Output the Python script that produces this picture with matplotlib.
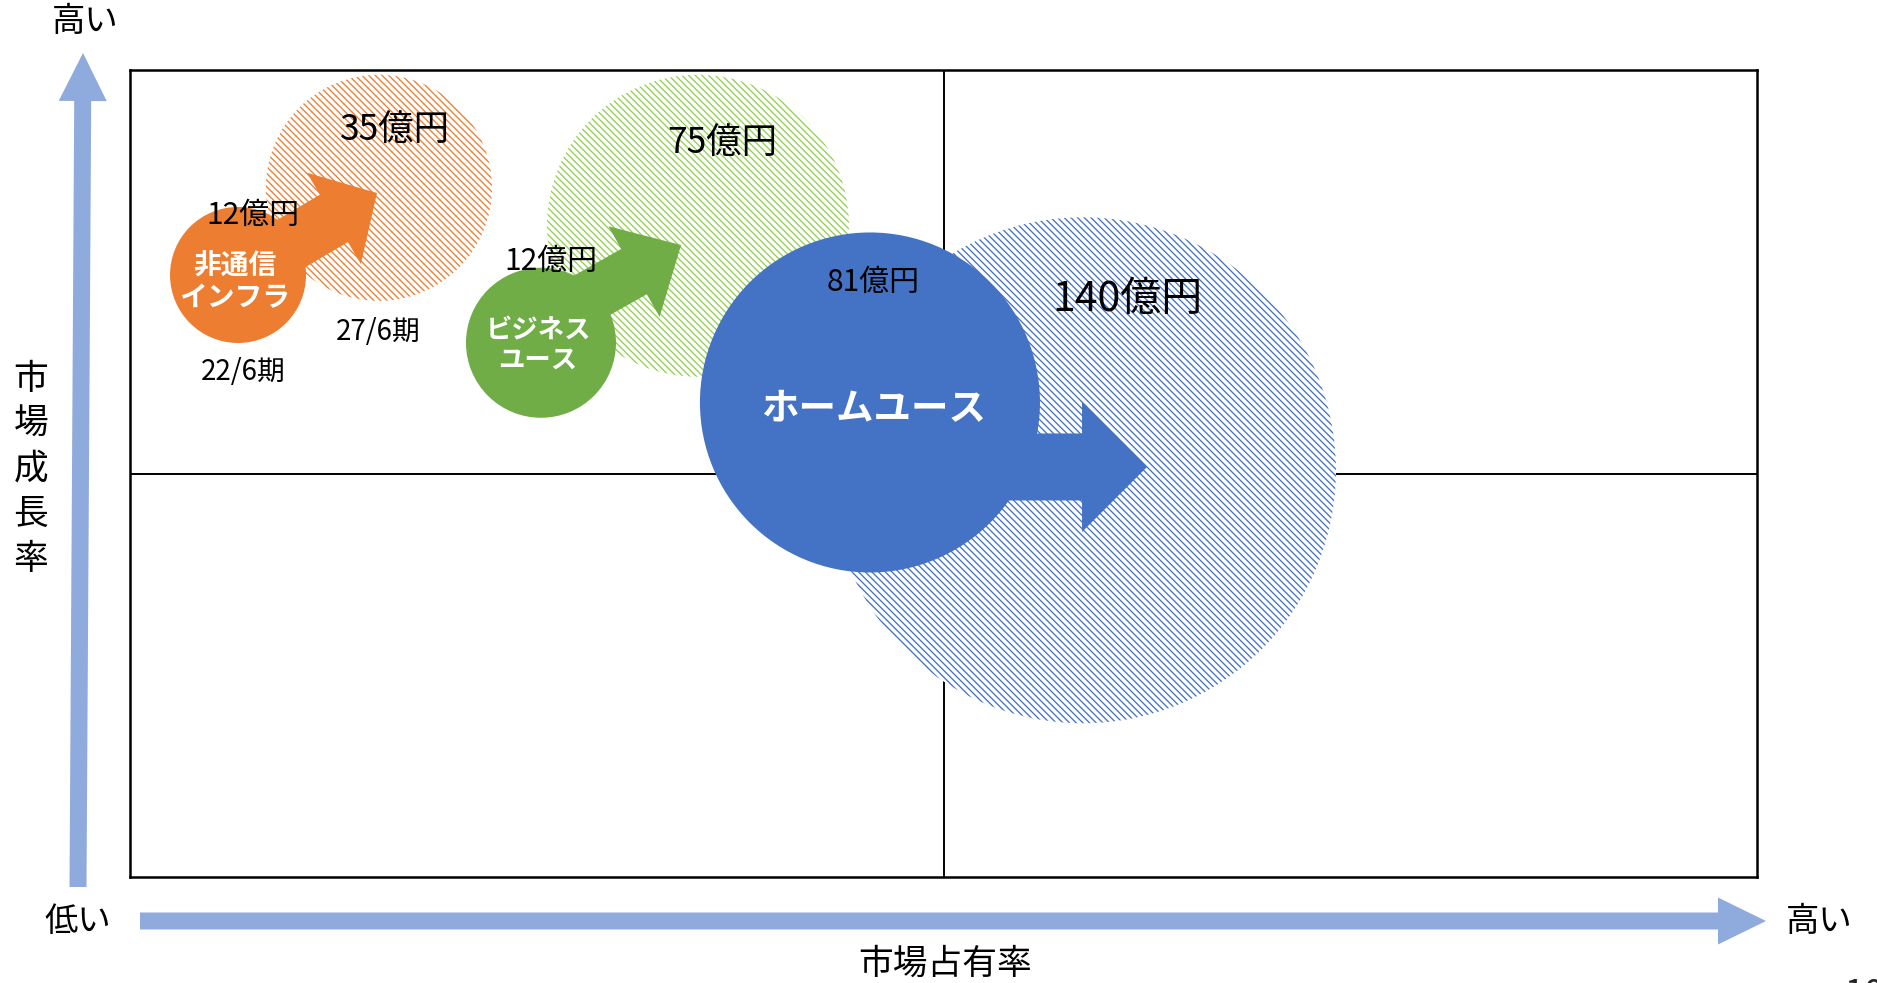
import matplotlib
matplotlib.use('Agg')
import matplotlib.pyplot as plt
from matplotlib.patches import Ellipse, FancyArrow

plt.rcParams['font.family'] = ['Noto Sans CJK JP', 'DejaVu Sans']
plt.rcParams['hatch.linewidth'] = 0.95

# ---------------- data ----------------
segments = ['非通信\nインフラ', 'ビジネス\nユース', 'ホームユース']
size_now = [12, 12, 81]          # 億円 (22/6期)
size_future = [35, 75, 140]      # 億円 (27/6期)
period_now = '22/6期'
period_future = '27/6期'

# position in the matrix (市場占有率 0-100, 市場成長率 0-100)
share_now = [6.64, 25.26, 45.48]
growth_now = [74.6, 66.2, 58.8]
share_future = [15.30, 34.91, 58.57]
growth_future = [85.4, 80.7, 50.4]
# bubble radii (in 市場占有率 units)
radius_now = [4.18, 4.61, 10.45]
radius_future = [6.95, 9.28, 15.55]
# growth arrows
arrow_from_share = [6.64, 25.81, 45.48]
arrow_from_growth = [74.6, 69.14, 50.81]
arrow_to_share = [15.18, 33.87, 62.51]
arrow_to_growth = [84.76, 78.31, 50.81]

# ---------------- styles / layout ----------------
solid_colors = ['#ED7D31', '#70AD47', '#4472C4']
hatch_colors = ['#ED7D31', '#92D050', '#4472C4']
arrow_dims = [(50, 106, 55), (54, 104, 52), (65, 130, 67)]  # head_len, head_w, tail_w (px)
seg_fontsize = [20, 19, 27]
seg_pos = [(6.45, 73.7), (25.08, 65.9), (45.67, 58.0)]
now_lbl_pos = [(7.56, 82.0), (25.88, 76.3), (45.67, 73.7)]
fut_lbl_pos = [(16.29, 92.5), (36.39, 90.8), (61.28, 71.6)]
fut_lbl_size = [25.5, 25.5, 29.5]
now_lbl_size = 21.5
period_pos_now = (6.95, 62.6)
period_pos_future = (15.24, 67.5)

W, H, DPI = 1877, 983, 100
fig = plt.figure(figsize=(W / DPI, H / DPI), dpi=DPI)

deco = fig.add_axes([0, 0, 1, 1])
deco.set_xlim(0, W)
deco.set_ylim(H, 0)
deco.axis('off')

box_l, box_t, box_r, box_b = 130, 70, 1757, 877
ax = fig.add_axes([box_l / W, 1 - box_b / H, (box_r - box_l) / W, (box_b - box_t) / H])
ax.set_xlim(0, 100)
ax.set_ylim(0, 100)
ax.set_xticks([])
ax.set_yticks([])
for s in ax.spines.values():
    s.set_linewidth(1.8)
    s.set_color('black')
    s.set_zorder(6)
ax.axvline(50, color='black', lw=1.4, zorder=1)
ax.axhline(50, color='black', lw=1.4, zorder=1)

aspect = ((box_r - box_l) / 100) / ((box_b - box_t) / 100)

# future (hatched) bubbles
for i in range(3):
    e = Ellipse((share_future[i], growth_future[i]), 2 * radius_future[i],
                2 * radius_future[i] * aspect, facecolor='white',
                edgecolor=hatch_colors[i], hatch='\\' * 5, lw=0, zorder=2)
    ax.add_patch(e)

# current (solid) bubbles
for i in range(3):
    e = Ellipse((share_now[i], growth_now[i]), 2 * radius_now[i],
                2 * radius_now[i] * aspect, facecolor=solid_colors[i],
                edgecolor='none', lw=0, zorder=3)
    ax.add_patch(e)

# arrows
for i in range(3):
    hl, hw, tw = arrow_dims[i]
    ax.annotate('', xy=(arrow_to_share[i], arrow_to_growth[i]),
                xytext=(arrow_from_share[i], arrow_from_growth[i]),
                arrowprops=dict(arrowstyle=f'simple,head_length={hl},head_width={hw},tail_width={tw}',
                                fc=solid_colors[i], ec='none', lw=0,
                                shrinkA=0, shrinkB=0, mutation_scale=72 / DPI),
                zorder=4, annotation_clip=False)

# labels
for i in range(3):
    ax.text(*seg_pos[i], segments[i], ha='center', va='center', color='white',
            fontsize=seg_fontsize[i], fontweight='bold', linespacing=1.15, zorder=5)
    ax.text(*now_lbl_pos[i], f'{size_now[i]}億円', ha='center', va='center',
            fontsize=now_lbl_size, color='black', zorder=5)
    ax.text(*fut_lbl_pos[i], f'{size_future[i]}億円', ha='center', va='center',
            fontsize=fut_lbl_size[i], color='black', zorder=5)
ax.text(*period_pos_now, period_now, ha='center', va='center', fontsize=20, zorder=5)
ax.text(*period_pos_future, period_future, ha='center', va='center', fontsize=20, zorder=5)

# ---------------- axis arrows & labels ----------------
axis_col = '#8FAADC'
deco.add_patch(FancyArrow(78, 887, 5, -834, width=17, head_width=48, head_length=48,
                          length_includes_head=True, color=axis_col, lw=0))
deco.add_patch(FancyArrow(140, 921, 1626, 0, width=17, head_width=47, head_length=48,
                          length_includes_head=True, color=axis_col, lw=0))
deco.text(85, 22, '高い', ha='center', va='center', fontsize=24)
deco.text(78, 921, '低い', ha='center', va='center', fontsize=24)
deco.text(1819, 921, '高い', ha='center', va='center', fontsize=24)
deco.text(945, 964, '市場占有率', ha='center', va='center', fontsize=25)
for k, ch in enumerate('市場成長率'):
    deco.text(31, 379 + 45 * k, ch, ha='center', va='center', fontsize=25)
deco.text(1845, 977, '10', ha='left', va='top', fontsize=25, color='#222222')

fig.savefig('out.png', dpi=DPI)
